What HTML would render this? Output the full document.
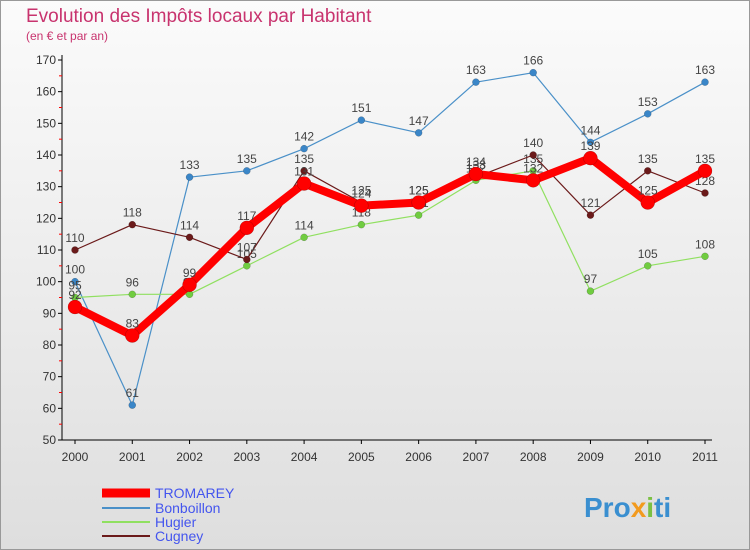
<!DOCTYPE html>
<html><head><meta charset="utf-8"><style>
body{margin:0;width:750px;height:550px;overflow:hidden;font-family:"Liberation Sans",sans-serif}
</style></head><body>
<svg id="c" width="750" height="550" xmlns="http://www.w3.org/2000/svg" style="display:block">
<defs><linearGradient id="bg" x1="0" y1="0" x2="0" y2="1"><stop offset="0" stop-color="#fbfbfb"/><stop offset="1" stop-color="#dedede"/></linearGradient></defs>
<rect x="0.5" y="0.5" width="749" height="549" fill="url(#bg)" stroke="#999"/>
<text x="26" y="22" font-size="19" fill="#c8336e">Evolution des Impôts locaux par Habitant</text>
<text x="26" y="40" font-size="12" fill="#c8336e">(en € et par an)</text>
<g id="axes"></g><g id="series"></g>
<g font-size="14">
<line x1="102" y1="493" x2="150" y2="493" stroke="#ff0000" stroke-width="9"/><text x="155" y="498" fill="#4455ee">TROMAREY</text>
<line x1="102" y1="508" x2="150" y2="508" stroke="#4a90c8" stroke-width="2"/><text x="155" y="513" fill="#4455ee">Bonboillon</text>
<line x1="102" y1="522" x2="150" y2="522" stroke="#90e060" stroke-width="2"/><text x="155" y="527" fill="#4455ee">Hugier</text>
<line x1="102" y1="536" x2="150" y2="536" stroke="#6b1a1a" stroke-width="2"/><text x="155" y="541" fill="#4455ee">Cugney</text>
</g>
<text x="584" y="517" font-size="28" font-weight="bold" fill="#3a8fd0">Pro<tspan fill="#f29a1e">x</tspan><tspan fill="#7bc043">i</tspan>ti</text>
</svg>
<script>
const years=["2000","2001","2002","2003","2004","2005","2006","2007","2008","2009","2010","2011"];
const yTicks=[50,60,70,80,90,100,110,120,130,140,150,160,170];
const tromarey=[92,83,99,117,131,124,125,134,132,139,125,135];
const bonboillon=[100,61,133,135,142,151,147,163,166,144,153,163];
const hugier=[95,96,96,105,114,118,121,132,135,97,105,108];
const cugney=[110,118,114,107,135,125,125,133,140,121,135,128];
const NS="http://www.w3.org/2000/svg";
const X=i=>75+i*(630/11), Y=v=>440-(v-50)*(380/120);
function mk(t,a,p){const e=document.createElementNS(NS,t);for(const k in a)e.setAttribute(k,a[k]);p.appendChild(e);return e;}
const ax=document.getElementById('axes');
const yl=mk('line',{x1:62,y1:55,x2:62,y2:440,stroke:'#000'},ax);


const xl=mk('line',{x1:62,y1:440,x2:712,y2:440,stroke:'#000'},ax);


yTicks.forEach((v,i)=>{
 mk('line',{x1:58,y1:Y(v),x2:62,y2:Y(v),stroke:'#000'},ax);
 if(i<yTicks.length-1)mk('line',{x1:59,y1:Y(v+5),x2:62,y2:Y(v+5),stroke:'#f00'},ax);
 const t=mk('text',{x:56,y:Y(v)+4,'text-anchor':'end','font-size':12,fill:'#333'},ax);t.textContent=v;
 
 
});
years.forEach((y,i)=>{
 mk('line',{x1:X(i),y1:440,x2:X(i),y2:444,stroke:'#000'},ax);
 const t=mk('text',{x:X(i),y:461,'text-anchor':'middle','font-size':12,fill:'#333'},ax);t.textContent=y;
 
 
});
const sg=document.getElementById('series');
function draw(d,col,w,r,name,dot){
 const g=mk('g',{},sg);
 
 
 mk('polyline',{points:d.map((v,i)=>X(i)+','+Y(v)).join(' '),fill:'none',stroke:col,'stroke-width':w,'stroke-linejoin':'round'},g);
 d.forEach((v,i)=>{
  const c=mk('circle',{cx:X(i),cy:Y(v),r:r,fill:dot,stroke:'rgba(0,0,0,0.3)','stroke-width':0.5},g);
  
  
  const t=mk('text',{x:X(i),y:Y(v)-8,'text-anchor':'middle','font-size':12,fill:'#444'},g);t.textContent=v;
 });
}
draw(bonboillon,'#4a90c8',1.2,3.5,'series-bonboillon','#3a86c8');
draw(hugier,'#90e060',1.2,3.5,'series-hugier','#70cc40');
draw(cugney,'#6b1a1a',1.2,3.5,'series-cugney','#6b1a1a');
draw(tromarey,'#ff0000',8,7,'series-tromarey','#ff0000');
</script>
</body></html>
